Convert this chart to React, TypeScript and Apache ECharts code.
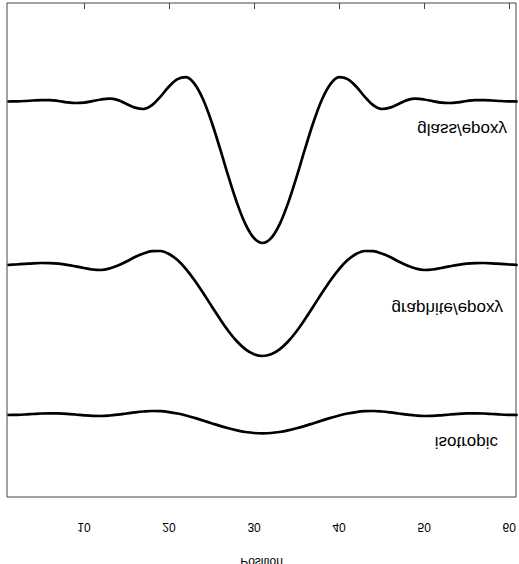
import React, { useEffect, useRef } from "react";
import * as echarts from "echarts";

// Position along the specimen (x) and the three displaced traces (y, arbitrary units)
const positions = [
  1, 2, 3, 4, 5, 6, 7, 8, 9, 10, 11, 12, 13, 14, 15, 16, 17, 18, 19, 20, 21, 22, 23, 24, 25, 26, 27, 28, 29, 30,
  31, 32, 33, 34, 35, 36, 37, 38, 39, 40, 41, 42, 43, 44, 45, 46, 47, 48, 49, 50, 51, 52, 53, 54, 55, 56, 57, 58, 59, 60, 61,
];

const glassEpoxy = [
  0.985, 0.983, 0.98, 0.975, 0.971, 0.971, 0.98, 0.993, 1.0, 0.996, 0.981, 0.965, 0.957, 0.971, 1.009, 1.046, 1.06, 1.022, 0.936, 0.835,
  0.761, 0.742, 0.809, 0.963, 1.188, 1.457, 1.739, 2.001, 2.214, 2.352,
  2.4,
  2.352, 2.214, 2.001, 1.739, 1.457, 1.188, 0.963, 0.809, 0.742, 0.761, 0.835, 0.936, 1.022, 1.06, 1.046, 1.009, 0.971, 0.957, 0.965,
  0.981, 0.996, 1.0, 0.993, 0.98, 0.971, 0.971, 0.975, 0.98, 0.983, 0.985,
];

const graphiteEpoxy = [
  2.62, 2.615, 2.609, 2.603, 2.6, 2.601, 2.607, 2.618, 2.633, 2.65, 2.665, 2.67, 2.655, 2.625, 2.585, 2.54, 2.505, 2.482, 2.48, 2.51,
  2.571, 2.661, 2.772, 2.898, 3.03, 3.161, 3.282, 3.385, 3.464, 3.513,
  3.53,
  3.513, 3.464, 3.385, 3.282, 3.161, 3.03, 2.898, 2.772, 2.661, 2.571, 2.51, 2.48, 2.482, 2.505, 2.54, 2.585, 2.625, 2.655, 2.67,
  2.665, 2.65, 2.633, 2.618, 2.607, 2.601, 2.6, 2.603, 2.609, 2.615, 2.62,
];

const isotropic = [
  4.12, 4.118, 4.115, 4.11, 4.105, 4.103, 4.104, 4.108, 4.115, 4.123, 4.129, 4.13, 4.125, 4.116, 4.105, 4.094, 4.085, 4.08, 4.082, 4.091,
  4.105, 4.125, 4.149, 4.175, 4.202, 4.229, 4.253, 4.274, 4.29, 4.3,
  4.303,
  4.3, 4.29, 4.274, 4.253, 4.229, 4.202, 4.175, 4.149, 4.125, 4.105, 4.091, 4.082, 4.08, 4.085, 4.094, 4.105, 4.116, 4.125, 4.13,
  4.129, 4.123, 4.115, 4.108, 4.104, 4.103, 4.105, 4.11, 4.115, 4.118, 4.12,
];

const tickValues = [10, 20, 30, 40, 50, 60];
const axisTitle = "Position";
const traceNames = ["glass/epoxy", "graphite/epoxy", "isotropic"];

const FONT = "'Liberation Sans', Arial, Helvetica, sans-serif";

export default function App() {
  const ref = useRef<HTMLDivElement>(null);

  useEffect(() => {
    if (!ref.current) return;
    const chart = echarts.init(ref.current, undefined, { renderer: "svg" });
    const mk = (name: string, ys: number[]) => ({
      name,
      type: "line",
      data: positions.map((x, i) => [x, ys[i]]),
      smooth: 0.35,
      showSymbol: false,
      symbol: "none",
      clip: true,
      lineStyle: { color: "#000", width: 2.7 },
    });
    chart.setOption({
      animation: false,
      backgroundColor: "#ffffff",
      grid: {
        left: 7,
        right: 3,
        top: 67,
        bottom: 3,
        show: true,
        borderColor: "#444",
        borderWidth: 1,
        outerBoundsMode: "none",
      },
      xAxis: {
        type: "value",
        position: "top",
        min: 0.95,
        max: 60.8,
        name: axisTitle,
        nameLocation: "middle",
        nameGap: 59,
        nameTextStyle: { fontFamily: FONT, fontSize: 12, color: "#000" },
        axisLine: { show: false },
        axisTick: { show: true, length: 6, customValues: tickValues, lineStyle: { color: "#444", width: 1 } },
        axisLabel: { customValues: tickValues, margin: 24, fontFamily: FONT, fontSize: 12, color: "#000" },
        splitLine: { show: false },
      },
      yAxis: { type: "value", min: 0, max: 4.94, show: false },
      series: [mk(traceNames[0], glassEpoxy), mk(traceNames[1], graphiteEpoxy), mk(traceNames[2], isotropic)],
      graphic: [
        { type: "text", x: 507, y: 435, style: { text: traceNames[0], font: `17px ${FONT}`, fill: "#000", align: "right", verticalAlign: "middle" } },
        { type: "text", x: 503, y: 256, style: { text: traceNames[1], font: `17px ${FONT}`, fill: "#000", align: "right", verticalAlign: "middle" } },
        { type: "text", x: 498, y: 122, style: { text: traceNames[2], font: `17px ${FONT}`, fill: "#000", align: "right", verticalAlign: "middle" } },
      ],
    });
    return () => chart.dispose();
  }, []);

  return (
    <div
      ref={ref}
      style={{ position: "absolute", left: 0, top: 0, width: 519, height: 564, transform: "scaleY(-1)" }}
    />
  );
}
